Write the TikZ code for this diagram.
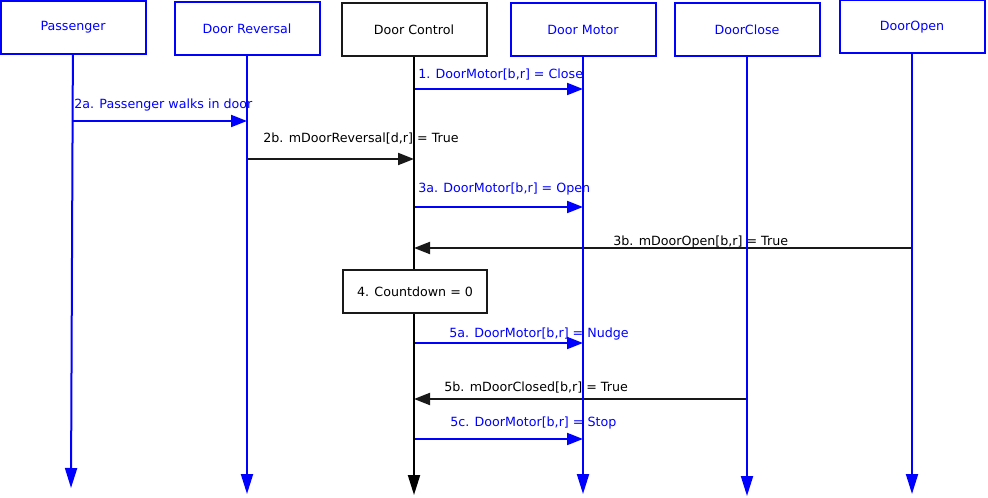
\documentclass[tikz,border=0pt]{standalone}
\usepackage{fontspec}
\setmainfont{DejaVu Sans}
\usetikzlibrary{arrows.meta,positioning}

\begin{document}
\begin{tikzpicture}[x=0.75pt,y=-0.75pt,
  actor/.style={draw=blue,text=blue,line width=1.5pt,minimum width=108.75pt,
    minimum height=39.75pt,font=\fontsize{9.5}{11}\selectfont},
  proc/.style={draw=black!90,fill=white,line width=1.5pt,minimum width=108pt,
    minimum height=32.25pt,font=\fontsize{9.5}{11}\selectfont},
  lbl/.style={anchor=west,inner sep=0pt,font=\fontsize{9.5}{11}\selectfont},
  life/.style={line width=1.5pt,-{Triangle[length=15pt,width=9pt]}},
  msg/.style={line width=1.5pt,-{Triangle[length=12pt,width=9pt]}}]
\useasboundingbox (0,0) rectangle (988,498);
% objects
\node[actor] (pas) at (73,27.5) {Passenger};
\node[actor] (rev) at (247,28.5) {Door Reversal};
\node[actor,draw=black!90,text=black] (ctl) at (414,29.5) {Door Control};
\node[actor] (mot) at (583,29.5) {Door Motor};
\node[actor] (cls) at (747,29.5) {DoorClose};
\node[actor] (opn) at (912,27) {DoorOpen};
\coordinate (pasE) at (71,488);
\coordinate (revE) at (247,494);
\coordinate (ctlE) at (414,495);
\coordinate (motE) at (583,494);
\coordinate (clsE) at (747,496);
\coordinate (opnE) at (912,494);
% message rows
\coordinate (r1) at (0,89);
\coordinate (r2a) at (0,121);
\coordinate (r2b) at (0,159);
\coordinate (r3a) at (0,207);
\coordinate (r3b) at (0,248);
\coordinate (r5a) at (0,343);
\coordinate (r5b) at (0,399);
\coordinate (r5c) at (0,439);
\draw[msg,blue] (ctl |- r1) -- (mot |- r1);
\draw[msg,blue] (pas |- r2a) -- (rev |- r2a);
\draw[msg,black!90] (rev |- r2b) -- (ctl |- r2b);
\draw[msg,blue] (ctl |- r3a) -- (mot |- r3a);
\draw[msg,black!90] (opn |- r3b) -- (ctl |- r3b);
\draw[msg,blue] (ctl |- r5a) -- (mot |- r5a);
\draw[msg,black!90] (cls |- r5b) -- (ctl |- r5b);
\draw[msg,blue] (ctl |- r5c) -- (mot |- r5c);
% labels
\node[lbl,blue] (l1) at (418,75) {1. DoorMotor[b,r] = Close};
\node[lbl,blue] (l2a) at (74,105) {2a. Passenger walks in door};
\node[lbl] (l2b) at (263,139) {2b. mDoorReversal[d,r] = True};
\node[lbl,blue] (l3a) at (418,189) {3a. DoorMotor[b,r] = Open};
\node[lbl] (l3b) at (613,242) {3b. mDoorOpen[b,r] = True};
\node[lbl,blue] (l5a) at (449,334) {5a. DoorMotor[b,r] = Nudge};
\node[lbl] (l5b) at (444,388) {5b. mDoorClosed[b,r] = True};
\node[lbl,blue] (l5c) at (450,423) {5c. DoorMotor[b,r] = Stop};
% lifelines
\foreach \a in {pas,rev,mot,cls,opn}
  \draw[life,blue] (\a) -- (\a E);
\draw[life,black] (ctl) -- (ctlE);
\node[proc] (cnt) at (415,291.5) {4. Countdown = 0};
\end{tikzpicture}
\end{document}
